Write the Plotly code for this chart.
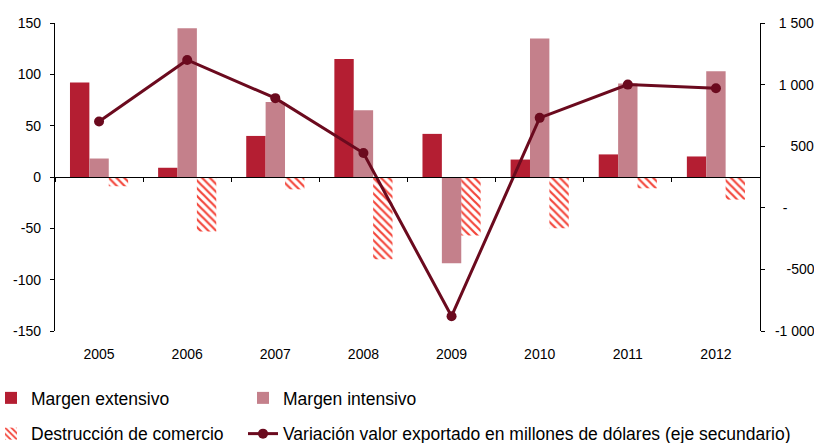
import plotly.graph_objects as go

years = ["2005", "2006", "2007", "2008", "2009", "2010", "2011", "2012"]
margen_extensivo = [92, 9, 40, 115, 42, 17, 22, 20]
margen_intensivo = [18, 145, 73, 65, -84, 135, 91, 103]
destruccion = [-9, -53, -12, -80, -57, -50, -11, -22]
variacion_valor = [700, 1200, 890, 445, -880, 730, 1000, 970]

y1_tickvals = [-150, -100, -50, 0, 50, 100, 150]
y1_ticktext = ["-150", "-100", "-50", "0", "50", "100", "150"]
y2_tickvals = [-1000, -500, 0, 500, 1000, 1500]
y2_ticktext = ["-1 000", "\u00a0\u00a0\u00a0-500", "\u00a0\u00a0-",
               "\u00a0\u00a0\u00a0\u00a0500", "\u00a01 000", "\u00a01 500"]

FONT = "Arial, Liberation Sans, sans-serif"
C_EXT = "#b41e32"
C_INT = "#c4808b"
C_DES = "#f3453a"
C_LINE = "#6b0a1e"

fig = go.Figure()
fig.add_trace(go.Bar(x=years, y=margen_extensivo, name="Margen extensivo",
                     marker=dict(color=C_EXT, line=dict(width=0)),
                     legend="legend", legendgroup="a"))
fig.add_trace(go.Bar(x=years, y=margen_intensivo, name="Margen intensivo",
                     marker=dict(color=C_INT, line=dict(width=0)),
                     legend="legend2", legendgroup="b"))
fig.add_trace(go.Bar(x=years, y=destruccion, name="Destrucción de comercio",
                     marker=dict(color="rgba(255,255,255,0)", line=dict(width=0),
                                 pattern=dict(shape="\\", fgcolor=C_DES,
                                              bgcolor="rgba(255,255,255,0)",
                                              size=5.5, solidity=0.4,
                                              fillmode="replace")),
                     legend="legend", legendgroup="c"))
fig.add_trace(go.Scatter(x=years, y=variacion_valor, xaxis="x2", yaxis="y2",
                         mode="lines+markers",
                         name="Variación valor exportado en millones de dólares (eje secundario)",
                         line=dict(color=C_LINE, width=3),
                         marker=dict(color=C_LINE, size=10),
                         legend="legend2", legendgroup="d"))

L_PLOT, PLOT_W, B_PLOT, PLOT_H = 55, 705, 331, 308
legend_top = 380

legend_common = dict(orientation="v", bgcolor="rgba(0,0,0,0)", borderwidth=0,
                     font=dict(family=FONT, size=17.5, color="#000"),
                     tracegroupgap=10, yanchor="top", xanchor="left",
                     traceorder="grouped")

fig.update_layout(
    width=814, height=443,
    margin=dict(l=55, r=54, t=23, b=112, autoexpand=False),
    paper_bgcolor="white", plot_bgcolor="white",
    barmode="group", bargap=0.34, bargroupgap=0,
    font=dict(family=FONT, size=14, color="#000"),
    showlegend=True,
    legend=dict(x=(-9 - L_PLOT) / PLOT_W, y=(B_PLOT - legend_top) / PLOT_H, **legend_common),
    legend2=dict(x=(243 - L_PLOT) / PLOT_W, y=(B_PLOT - legend_top) / PLOT_H, **legend_common),
    xaxis=dict(type="category", categoryarray=years, categoryorder="array",
               range=[-0.5, 7.5], anchor="free", position=0.5,
               showline=True, linecolor="#000", linewidth=1.3,
               ticks="outside", tickson="boundaries", ticklen=4, tickcolor="#000",
               showticklabels=False, showgrid=False, zeroline=False),
    xaxis2=dict(type="category", categoryarray=years, categoryorder="array",
                range=[-0.5, 7.5], overlaying="x", anchor="y2", side="bottom",
                showline=False, ticks="", showticklabels=True,
                tickfont=dict(family=FONT, size=14, color="#000"),
                ticklabelstandoff=13, showgrid=False, zeroline=False),
    yaxis=dict(range=[-150, 150], tickvals=y1_tickvals, ticktext=y1_ticktext,
               showline=True, linecolor="#000", linewidth=1.3,
               ticks="outside", ticklen=4, tickcolor="#000",
               tickfont=dict(family=FONT, size=14, color="#000"),
               ticklabelstandoff=6, showgrid=False, zeroline=False, anchor="x"),
    yaxis2=dict(range=[-1000, 1500], tickvals=y2_tickvals, ticktext=y2_ticktext,
                overlaying="y", side="right", anchor="x2",
                showline=True, linecolor="#000", linewidth=1.3,
                ticks="outside", ticklen=4, tickcolor="#000",
                tickfont=dict(family=FONT, size=14, color="#000"),
                ticklabelstandoff=7, showgrid=False, zeroline=False),
)

fig.write_html("out.html", config={"displayModeBar": False},
               post_script="document.body.style.margin='0';document.body.style.overflow='hidden';")
